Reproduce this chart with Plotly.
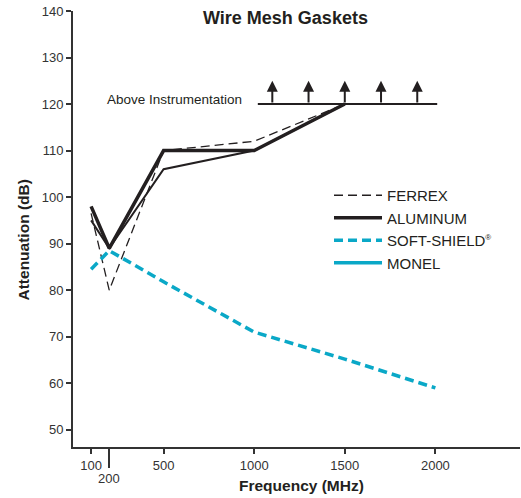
import plotly.graph_objects as go

# ---- data ----
freq = [100, 200, 500, 1000, 1500]
ferrex = [96.5, 80, 110, 112, 120]
aluminum = [98, 89, 110, 110, 120]
aluminum_b = [95, 89, 106, 110, 120]
soft_freq = [100, 200, 500, 1000, 1500, 2000]
soft_shield = [84.5, 88.5, 81.8, 71, 65.2, 59]
instr_x = [1020, 2010]
instr_level = 120
arrow_x = [1100, 1300, 1500, 1700, 1900]
arrow_top = 125
x_tickvals = [100, 500, 1000, 1500, 2000]
x_ticktext = ["100", "500", "1000", "1500", "2000"]
y_tickvals = [50, 60, 70, 80, 90, 100, 110, 120, 130, 140]

BLACK = "#231f20"
CYAN = "#0aa8c7"
AX = "#333333"
FONT = "Liberation Sans, Arial, sans-serif"

fig = go.Figure()

fig.add_trace(go.Scatter(x=freq, y=ferrex, mode="lines", name="FERREX",
                         line=dict(color=BLACK, width=1.3, dash="9px,5px")))
fig.add_trace(go.Scatter(x=freq, y=aluminum_b, mode="lines", name="ALUMINUM",
                         legendgroup="al", showlegend=False,
                         line=dict(color=BLACK, width=2)))
fig.add_trace(go.Scatter(x=freq, y=aluminum, mode="lines", name="ALUMINUM",
                         legendgroup="al",
                         line=dict(color=BLACK, width=3.5)))
fig.add_trace(go.Scatter(x=soft_freq, y=soft_shield, mode="lines",
                         name="SOFT-SHIELD<sup><span style='font-size:8px'>®</span></sup>",
                         line=dict(color=CYAN, width=3.5, dash="9px,5px")))
fig.add_trace(go.Scatter(x=[None], y=[None], mode="lines", name="MONEL",
                         line=dict(color=CYAN, width=3.5)))
# Above instrumentation line
fig.add_trace(go.Scatter(x=instr_x, y=[instr_level] * len(instr_x), mode="lines",
                         showlegend=False, hoverinfo="skip",
                         line=dict(color=BLACK, width=2)))

annotations = []
for ax_ in arrow_x:
    annotations.append(dict(x=ax_, y=arrow_top, ax=ax_, ay=instr_level,
                            xref="x", yref="y", axref="x", ayref="y",
                            showarrow=True, arrowhead=2, arrowsize=1.1,
                            arrowwidth=2, arrowcolor=BLACK, text=""))
annotations.append(dict(x=945, y=120.9, xref="x", yref="y", xanchor="right",
                        yanchor="middle", showarrow=False,
                        text="Above Instrumentation",
                        font=dict(size=13.5, color=BLACK, family=FONT)))
annotations.append(dict(x=(285 - 73) / 447, y=(447 - 18) / 436, xref="paper",
                        yref="paper", xanchor="center", yanchor="middle",
                        showarrow=False, text="<b>Wire Mesh Gaskets</b>",
                        font=dict(size=18, color=BLACK, family=FONT)))
annotations.append(dict(x=(301.5 - 73) / 447, y=(447 - 485) / 436, xref="paper",
                        yref="paper", xanchor="center", yanchor="middle",
                        showarrow=False, text="<b>Frequency (MHz)</b>",
                        font=dict(size=15.5, color=BLACK, family=FONT)))
annotations.append(dict(x=(22.5 - 73) / 447, y=(447 - 240) / 436, xref="paper",
                        yref="paper", xanchor="center", yanchor="middle",
                        textangle=-90, showarrow=False,
                        text="<b>Attenuation (dB)</b>",
                        font=dict(size=15.5, color=BLACK, family=FONT)))
annotations.append(dict(x=200, y=(447 - 478) / 436, xref="x", yref="paper",
                        xanchor="center", yanchor="middle", showarrow=False,
                        text="200", font=dict(size=13, color=AX, family=FONT)))

fig.update_layout(
    width=521, height=498,
    margin=dict(l=73, r=1, t=11, b=51),
    paper_bgcolor="white", plot_bgcolor="white",
    font=dict(family=FONT, color=AX, size=13),
    showlegend=True,
    legend=dict(x=(329 - 73) / 447, y=(447 - 179) / 436, xanchor="left",
                yanchor="top", bgcolor="rgba(0,0,0,0)",
                font=dict(size=15, color=BLACK, family=FONT),
                tracegroupgap=0, itemwidth=48),
    annotations=annotations,
)
fig.update_xaxes(range=[0, 2467], showgrid=False, zeroline=False,
                 showline=True, linecolor=AX, linewidth=2,
                 ticks="outside", ticklen=5, tickwidth=1.5, tickcolor=AX,
                 tickvals=x_tickvals, ticktext=x_ticktext,
                 tickfont=dict(size=13, color=AX),
                 minor=dict(tickvals=[200], ticklen=19, tickwidth=1.5,
                            tickcolor=AX, ticks="outside"))
fig.update_yaxes(range=[46.3, 140], showgrid=False, zeroline=False,
                 showline=True, linecolor=AX, linewidth=2,
                 ticks="outside", ticklen=5, tickwidth=1.5, tickcolor=AX,
                 tickvals=y_tickvals, tickfont=dict(size=13, color=AX))

fig.write_html("out.html", config={"displayModeBar": False},
               post_script="document.body.style.margin='0';document.body.style.padding='0';")
